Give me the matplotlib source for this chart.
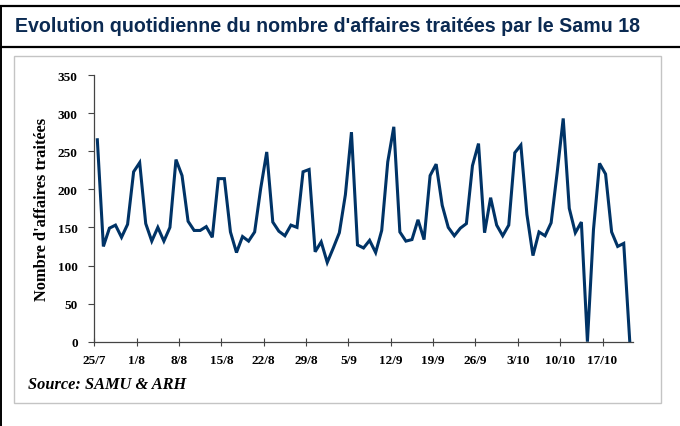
import matplotlib
matplotlib.use("Agg")
import matplotlib.pyplot as plt
from matplotlib.lines import Line2D
from matplotlib.patches import Rectangle

# données
affaires = [265, 125, 149, 153, 137, 154, 223, 235, 155, 132, 150, 132, 150, 239,
            218, 158, 146, 146, 151, 137, 214, 214, 144, 117, 138, 132, 144, 201,
            249, 157, 145, 139, 153, 150, 223, 226, 118, 131, 104, 123, 143, 193,
            275, 127, 123, 133, 117, 146, 236, 282, 144, 132, 134, 160, 134, 218,
            233, 179, 150, 139, 149, 155, 231, 260, 143, 189, 153, 139, 153, 248,
            258, 167, 113, 144, 139, 156, 222, 293, 175, 143, 157, 0, 147, 234,
            220, 144, 125, 129, 0]
date_labels = ["25/7", "1/8", "8/8", "15/8", "22/8", "29/8", "5/9", "12/9",
               "19/9", "26/9", "3/10", "10/10", "17/10"]
y_ticks = [0, 50, 100, 150, 200, 250, 300, 350]

W, H = 680, 427
fig = plt.figure(figsize=(W / 100, H / 100), dpi=100)

# cadres
px = lambda x, y: (x / W, 1 - y / H)
fig.add_artist(Line2D([0, 1], [px(0, 7)[1]] * 2, color="black", lw=1.6))
fig.add_artist(Line2D([0, 1], [px(0, 48)[1]] * 2, color="black", lw=1.6))
fig.add_artist(Line2D([1.2 / W] * 2, [0, px(0, 7)[1]], color="black", lw=1.4))
fig.add_artist(Rectangle(px(14, 404), (661 - 14) / W, (404 - 57) / H,
                         fill=False, edgecolor="#c4c4c4", lw=1.0))

# titre
fig.text(15 / W, px(0, 27)[1], "Evolution quotidienne du nombre d'affaires traitées par le Samu 18",
         fontsize=14.1, fontweight="bold", family="Liberation Sans", color="#0b2a52",
         ha="left", va="center")

ax = fig.add_axes([94.3 / W, 84.3 / H, (632.8 - 94.3) / W, (351 - 84.3) / H])
x = list(range(len(affaires)))
ax.plot(x, affaires, color="#003366", lw=2.2, solid_joinstyle="miter")

ax.set_xlim(-0.5, len(affaires) - 0.5)
ax.set_ylim(0, 350)
ax.set_yticks(y_ticks)
ax.set_xticks([7 * i - 0.5 for i in range(len(date_labels))])
ax.set_xticklabels(date_labels)

for s in ["top", "right"]:
    ax.spines[s].set_visible(False)
for s in ["left", "bottom"]:
    ax.spines[s].set_color("#444444")
    ax.spines[s].set_linewidth(0.9)

ax.tick_params(axis="y", direction="out", length=4, width=0.8, color="#444444", pad=8)
ax.tick_params(axis="x", direction="inout", length=6, width=0.8, color="#444444", pad=6)
for lab in ax.get_xticklabels() + ax.get_yticklabels():
    lab.set_fontfamily("Liberation Serif")
    lab.set_fontweight("bold")
    lab.set_fontsize(9.5)

ax.set_ylabel("Nombre d'affaires traitées", family="Liberation Serif",
              fontweight="bold", fontsize=11.8, labelpad=5.5)

fig.text(28 / W, px(0, 385)[1], "Source: SAMU & ARH", family="Liberation Serif",
         fontweight="bold", style="italic", fontsize=11.8, ha="left", va="center")

fig.savefig("out.png", dpi=100)
